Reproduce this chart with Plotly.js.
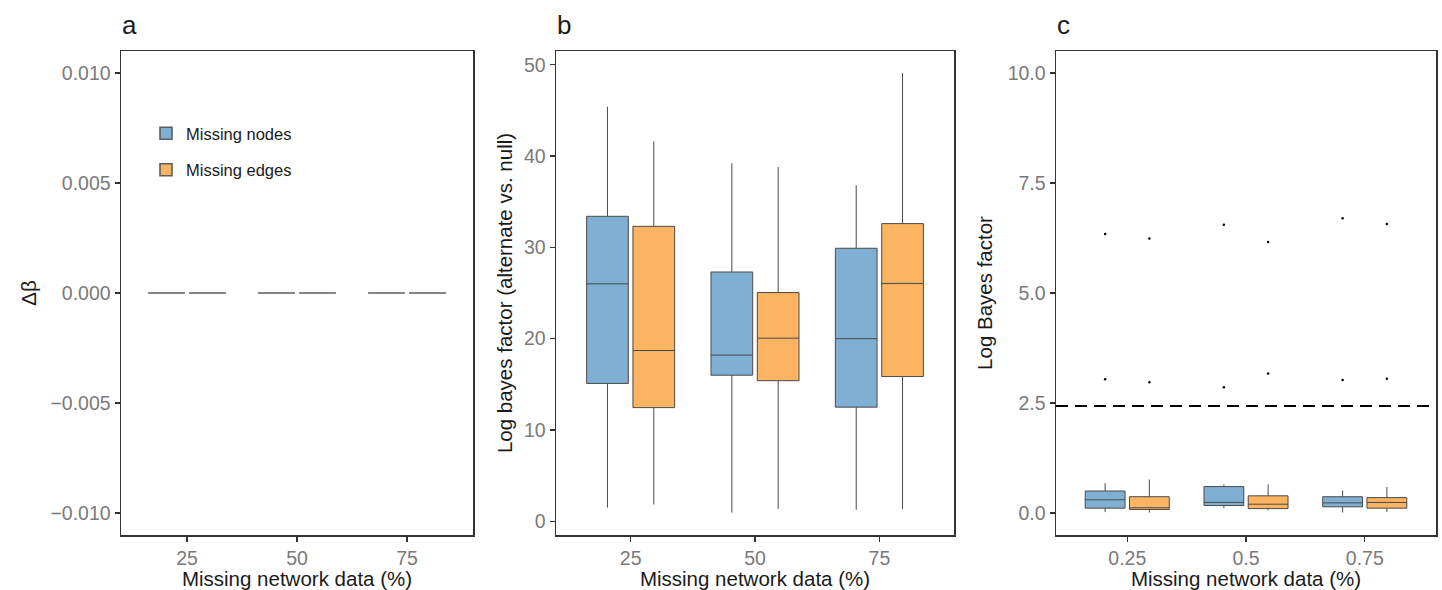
<!DOCTYPE html>
<html>
<head>
<meta charset="utf-8">
<script src="https://cdn.plot.ly/plotly-3.0.1.min.js"></script>
<style>html,body{margin:0;padding:0;background:#fff;}#chart{width:1442px;height:590px;}</style>
</head>
<body>
<div id="chart"></div>
<script>
// ---------- data ----------
const seriesNames = ["Missing nodes", "Missing edges"];
const catsPct = ["25", "50", "75"];
const catsFrac = ["0.25", "0.5", "0.75"];

// Panel a: change in beta (all zero)
const aNodesQ1 = [0, 0, 0], aNodesMed = [0, 0, 0], aNodesQ3 = [0, 0, 0], aNodesLo = [0, 0, 0], aNodesHi = [0, 0, 0];
const aEdgesQ1 = [0, 0, 0], aEdgesMed = [0, 0, 0], aEdgesQ3 = [0, 0, 0], aEdgesLo = [0, 0, 0], aEdgesHi = [0, 0, 0];

// Panel b: log bayes factor (alternate vs null)
const bNodesLo = [1.5, 0.95, 1.25];
const bNodesQ1 = [15.1, 16.0, 12.5];
const bNodesMed = [26.0, 18.2, 20.0];
const bNodesQ3 = [33.4, 27.3, 29.9];
const bNodesHi = [45.4, 39.2, 36.8];
const bEdgesLo = [1.85, 1.35, 1.35];
const bEdgesQ1 = [12.45, 15.4, 15.85];
const bEdgesMed = [18.7, 20.05, 26.05];
const bEdgesQ3 = [32.3, 25.05, 32.6];
const bEdgesHi = [41.6, 38.8, 49.1];

// Panel c: log Bayes factor
const cNodesLo = [0.02, 0.11, 0.01];
const cNodesQ1 = [0.11, 0.17, 0.14];
const cNodesMed = [0.30, 0.24, 0.23];
const cNodesQ3 = [0.50, 0.60, 0.37];
const cNodesHi = [0.68, 0.65, 0.51];
const cNodesOut = [[6.34, 3.04], [6.55, 2.86], [6.70, 3.02]];
const cEdgesLo = [0.01, 0.06, 0.02];
const cEdgesQ1 = [0.08, 0.10, 0.11];
const cEdgesMed = [0.12, 0.20, 0.24];
const cEdgesQ3 = [0.37, 0.39, 0.35];
const cEdgesHi = [0.76, 0.65, 0.59];
const cEdgesOut = [[6.24, 2.97], [6.16, 3.17], [6.57, 3.05]];
const threshold = 2.43;

// ---------- styling ----------
const fillColors = ["#7FAFD2", "#FDB462"];
const boxLine = "#4a4a4a";
const font = "Liberation Sans, Arial, sans-serif";

function box(name, idx, panel, xa, ya, x, lo, q1, med, q3, hi, show, extra) {
  const t = {
    type: "box", name: name, x: x,
    q1: q1, median: med, q3: q3, lowerfence: lo, upperfence: hi,
    xaxis: xa, yaxis: ya,
    offsetgroup: "s" + idx, alignmentgroup: panel,
    fillcolor: fillColors[idx],
    line: {color: boxLine, width: 1},
    whiskerwidth: 0,
    boxpoints: false,
    showlegend: show,
    legendgroup: "g" + idx,
    hoverinfo: "skip"
  };
  return Object.assign(t, extra || {});
}

const outStyle = {boxpoints: "outliers", jitter: 0, pointpos: 0,
  marker: {color: "#000", size: 2.5, outliercolor: "#000", line: {width: 0}}};
const flatLine = {line: {color: "#5e5e5e", width: 1.6}};

const traces = [
  box(seriesNames[0], 0, "a", "x", "y", catsPct, aNodesLo, aNodesQ1, aNodesMed, aNodesQ3, aNodesHi, true, flatLine),
  box(seriesNames[1], 1, "a", "x", "y", catsPct, aEdgesLo, aEdgesQ1, aEdgesMed, aEdgesQ3, aEdgesHi, true, flatLine),
  box(seriesNames[0], 0, "b", "x2", "y2", catsPct, bNodesLo, bNodesQ1, bNodesMed, bNodesQ3, bNodesHi, false),
  box(seriesNames[1], 1, "b", "x2", "y2", catsPct, bEdgesLo, bEdgesQ1, bEdgesMed, bEdgesQ3, bEdgesHi, false),
  box(seriesNames[0], 0, "c", "x3", "y3", catsFrac, cNodesLo, cNodesQ1, cNodesMed, cNodesQ3, cNodesHi, false, Object.assign({y: cNodesOut}, outStyle)),
  box(seriesNames[1], 1, "c", "x3", "y3", catsFrac, cEdgesLo, cEdgesQ1, cEdgesMed, cEdgesQ3, cEdgesHi, false, Object.assign({y: cEdgesOut}, outStyle))
];

const W = 1442, H = 590;
const yDom = [(H - 535) / H, (H - 51) / H];
const tickFont = {family: font, size: 19.5, color: "#7a7a7a"};
const titleFont = {family: font, size: 20.5, color: "#1a1a1a"};

function xax(dom, anchor) {
  return {
    domain: dom, anchor: anchor, type: "category", range: [-0.6, 2.6],
    showline: true, mirror: true, linecolor: "#333", linewidth: 1.5,
    ticks: "outside", ticklen: 5, tickcolor: "#333", tickwidth: 1.2,
    showgrid: false, zeroline: false,
    tickfont: tickFont,
    title: {text: "Missing network data (%)", font: titleFont, standoff: 2},
    fixedrange: true
  };
}
function yax(anchor, range, dtick, title, fmt, standoff) {
  return {
    domain: yDom, anchor: anchor, range: range, dtick: dtick, tick0: 0,
    showline: true, mirror: true, linecolor: "#333", linewidth: 1.5,
    ticks: "outside", ticklen: 5, tickcolor: "#333", tickwidth: 1.2,
    showgrid: false, zeroline: false, tickformat: fmt,
    tickfont: tickFont,
    title: {text: title, font: titleFont, standoff: standoff},
    fixedrange: true
  };
}

const layout = {
  width: W, height: H,
  margin: {l: 0, r: 0, t: 0, b: 0},
  paper_bgcolor: "#fff", plot_bgcolor: "#fff",
  font: {family: font},
  boxmode: "group", boxgap: 0.255, boxgroupgap: 0.1,
  xaxis: xax([121 / W, 473 / W], "y"),
  xaxis2: xax([556 / W, 954 / W], "y2"),
  xaxis3: xax([1056 / W, 1436 / W], "y3"),
  yaxis: yax("x", [-0.011, 0.011], 0.005, "Δβ", ".3f", 8),
  yaxis2: yax("x2", [-1.5, 51.5], 10, "Log bayes factor (alternate vs. null)", "d", 5),
  yaxis3: yax("x3", [-0.5, 10.5], 2.5, "Log Bayes factor", ".1f", 9),
  showlegend: true,
  legend: {
    x: 146 / W, y: (H - 116) / H, xanchor: "left", yanchor: "top",
    bgcolor: "rgba(0,0,0,0)", font: {family: font, size: 16.5, color: "#1a1a1a"},
    traceorder: "grouped", tracegroupgap: 12
  },
  shapes: [{
    type: "line", xref: "x3 domain", yref: "y3", x0: 0, x1: 1, y0: threshold, y1: threshold,
    line: {color: "#000", width: 2, dash: "12px,7px"}
  }],
  annotations: [
    {text: "a", xref: "paper", yref: "paper", x: 120 / W, y: (H - 25) / H, xanchor: "left", yanchor: "middle", showarrow: false, font: {family: font, size: 26, color: "#1a1a1a"}},
    {text: "b", xref: "paper", yref: "paper", x: 555 / W, y: (H - 25) / H, xanchor: "left", yanchor: "middle", showarrow: false, font: {family: font, size: 26, color: "#1a1a1a"}},
    {text: "c", xref: "paper", yref: "paper", x: 1055 / W, y: (H - 25) / H, xanchor: "left", yanchor: "middle", showarrow: false, font: {family: font, size: 26, color: "#1a1a1a"}}
  ]
};

Plotly.newPlot("chart", traces, layout, {displayModeBar: false, staticPlot: true});
</script>
</body>
</html>
